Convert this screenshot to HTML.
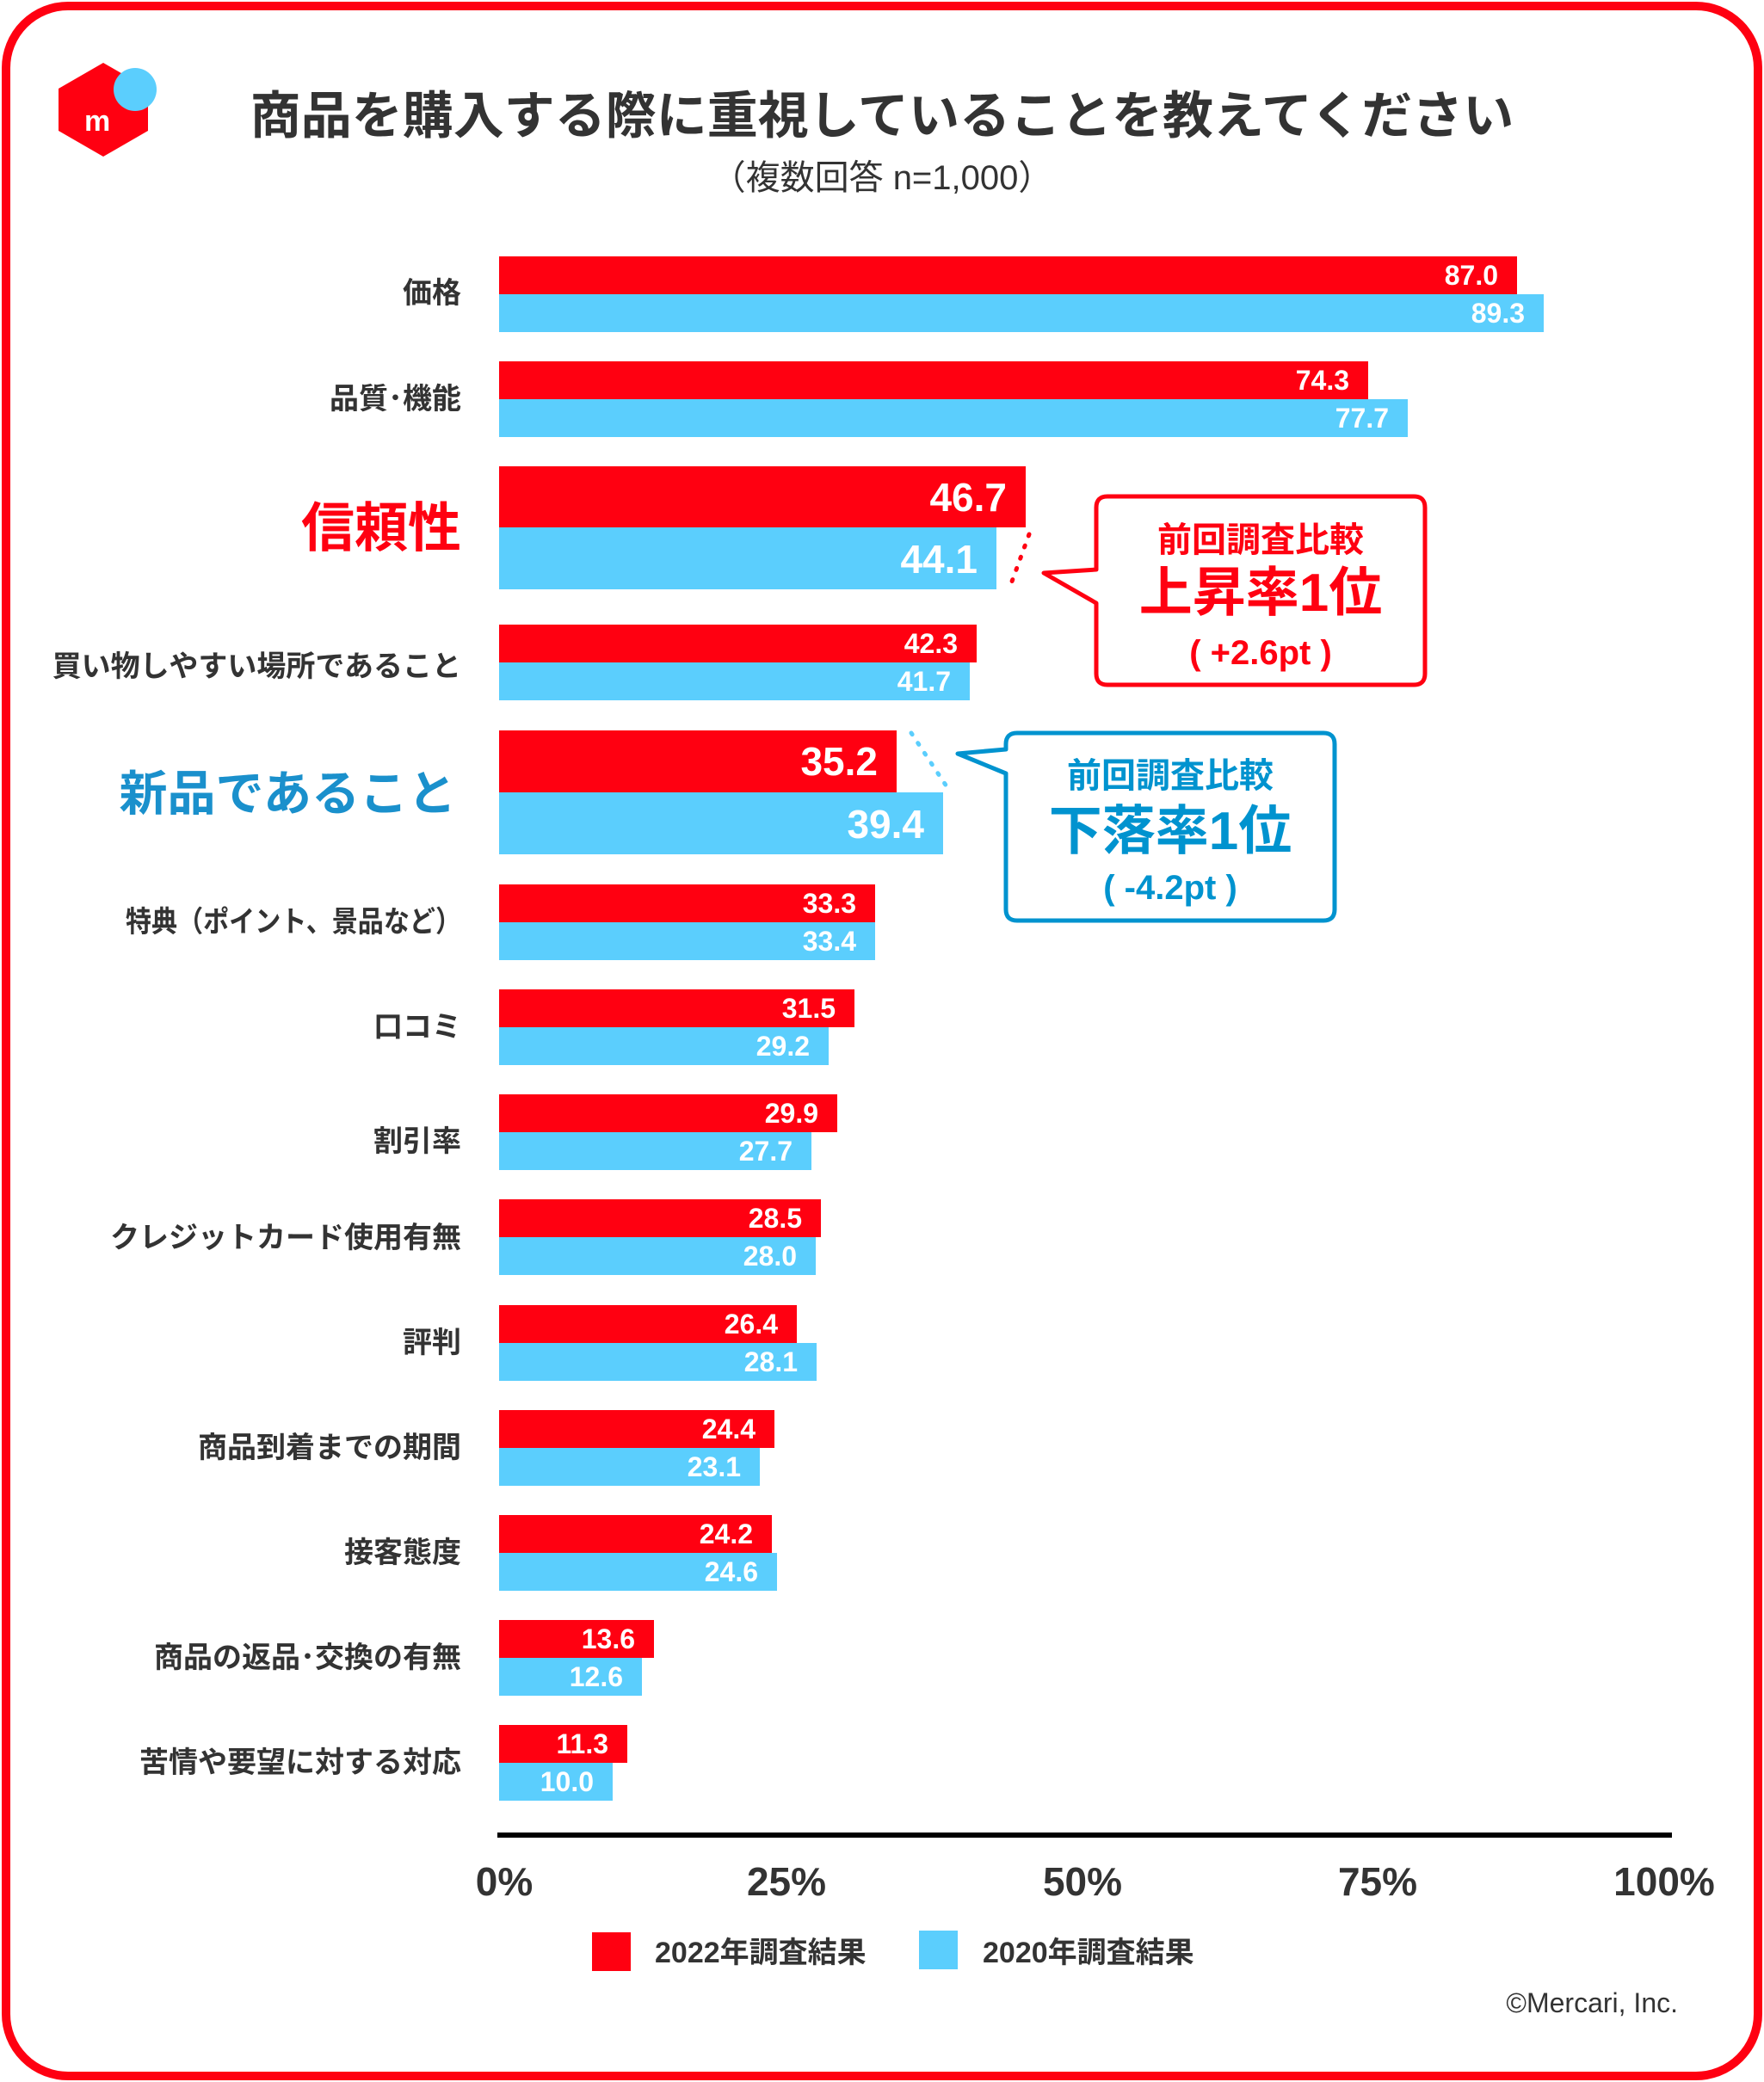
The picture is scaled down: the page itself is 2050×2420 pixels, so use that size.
<!DOCTYPE html>
<html><head><meta charset="utf-8"><style>
html,body{margin:0;padding:0;background:#fff}
svg{display:block}
text{font-family:"Liberation Sans","Noto Sans CJK JP",sans-serif;font-weight:bold}
</style></head><body>
<svg width="2050" height="2420" viewBox="0 0 2050 2420" xmlns="http://www.w3.org/2000/svg">
<rect x="7" y="7" width="2036" height="2406" rx="72" fill="#fff" stroke="#ff0011" stroke-width="10"/>
<polygon points="120,73 172,103 172,152 120,182 68,152 68,103" fill="#ff0011"/>
<circle cx="157" cy="104" r="25" fill="#5bcefd"/>
<text x="98" y="152" font-size="34" fill="#fff">m</text>
<text x="1025" y="155" font-size="59" fill="#333" text-anchor="middle">商品を購入する際に重視していることを教えてください</text>
<text x="1025" y="220" font-size="40" fill="#333" text-anchor="middle" style="font-weight:normal">（複数回答 n=1,000）</text>
<g fill="#ff0011">
<rect x="580" y="298" width="1183" height="44"/>
<rect x="580" y="420" width="1010" height="44"/>
<rect x="580" y="542" width="612" height="71"/>
<rect x="580" y="726" width="555" height="44"/>
<rect x="580" y="849" width="462" height="72"/>
<rect x="580" y="1028" width="437" height="44"/>
<rect x="580" y="1150" width="413" height="44"/>
<rect x="580" y="1272" width="393" height="44"/>
<rect x="580" y="1394" width="374" height="44"/>
<rect x="580" y="1517" width="346" height="44"/>
<rect x="580" y="1639" width="320" height="44"/>
<rect x="580" y="1761" width="317" height="44"/>
<rect x="580" y="1883" width="180" height="44"/>
<rect x="580" y="2005" width="149" height="44"/>
</g>
<g fill="#5bcefd">
<rect x="580" y="342" width="1214" height="44"/>
<rect x="580" y="464" width="1056" height="44"/>
<rect x="580" y="613" width="578" height="72"/>
<rect x="580" y="770" width="547" height="44"/>
<rect x="580" y="921" width="516" height="72"/>
<rect x="580" y="1072" width="437" height="44"/>
<rect x="580" y="1194" width="383" height="44"/>
<rect x="580" y="1316" width="363" height="44"/>
<rect x="580" y="1438" width="368" height="44"/>
<rect x="580" y="1561" width="369" height="44"/>
<rect x="580" y="1683" width="303" height="44"/>
<rect x="580" y="1805" width="323" height="44"/>
<rect x="580" y="1927" width="166" height="44"/>
<rect x="580" y="2049" width="132" height="44"/>
</g>
<g fill="#fff" font-size="32" text-anchor="end">
<text x="1741" y="331">87.0</text><text x="1772" y="375">89.3</text>
<text x="1568" y="453">74.3</text><text x="1614" y="497">77.7</text>
<text x="1170" y="594" font-size="46">46.7</text><text x="1136" y="666" font-size="46">44.1</text>
<text x="1113" y="759">42.3</text><text x="1105" y="803">41.7</text>
<text x="1020" y="901" font-size="46">35.2</text><text x="1074" y="974" font-size="46">39.4</text>
<text x="995" y="1061">33.3</text><text x="995" y="1105">33.4</text>
<text x="971" y="1183">31.5</text><text x="941" y="1227">29.2</text>
<text x="951" y="1305">29.9</text><text x="921" y="1349">27.7</text>
<text x="932" y="1427">28.5</text><text x="926" y="1471">28.0</text>
<text x="904" y="1550">26.4</text><text x="927" y="1594">28.1</text>
<text x="878" y="1672">24.4</text><text x="861" y="1716">23.1</text>
<text x="875" y="1794">24.2</text><text x="881" y="1838">24.6</text>
<text x="738" y="1916">13.6</text><text x="724" y="1960">12.6</text>
<text x="707" y="2038">11.3</text><text x="690" y="2082">10.0</text>
</g>
<g fill="#333" font-size="34" text-anchor="end">
<text x="536" y="352">価格</text>
<text x="536" y="475">品質･機能</text>
<text x="536" y="635" font-size="62" fill="#ff0011">信頼性</text>
<text x="536" y="786">買い物しやすい場所であること</text>
<text x="530" y="942" font-size="56" fill="#1a90cc">新品であること</text>
<text x="536" y="1083" textLength="390" lengthAdjust="spacingAndGlyphs">特典（ポイント、景品など）</text>
<text x="536" y="1205">口コミ</text>
<text x="536" y="1338">割引率</text>
<text x="536" y="1450">クレジットカード使用有無</text>
<text x="536" y="1572">評判</text>
<text x="536" y="1694">商品到着までの期間</text>
<text x="536" y="1816">接客態度</text>
<text x="536" y="1938">商品の返品･交換の有無</text>
<text x="536" y="2060">苦情や要望に対する対応</text>
</g>
<line x1="1196" y1="621" x2="1173" y2="684" stroke="#ff0011" stroke-width="5" stroke-dasharray="2 12" stroke-linecap="round"/>
<path d="M1274,662 L1274,590 Q1274,577 1287,577 L1643,577 Q1656,577 1656,590 L1656,783 Q1656,796 1643,796 L1287,796 Q1274,796 1274,783 L1274,701 L1213,666 Z" fill="#fff" stroke="#ff0011" stroke-width="5" stroke-linejoin="round"/>
<g fill="#ff0011" text-anchor="middle">
<text x="1465" y="641" font-size="40">前回調査比較</text>
<text x="1465" y="710" font-size="62">上昇率1位</text>
<text x="1465" y="772" font-size="40">( +2.6pt )</text>
</g>
<line x1="1059" y1="852" x2="1102" y2="917" stroke="#5bcefd" stroke-width="5" stroke-dasharray="2 12" stroke-linecap="round"/>
<path d="M1169,871 L1169,865 Q1169,852 1182,852 L1538,852 Q1551,852 1551,865 L1551,1057 Q1551,1070 1538,1070 L1182,1070 Q1169,1070 1169,1057 L1169,899 L1113,876 Z" fill="#fff" stroke="#0093cf" stroke-width="5" stroke-linejoin="round"/>
<g fill="#0093cf" text-anchor="middle">
<text x="1360" y="915" font-size="40">前回調査比較</text>
<text x="1360" y="987" font-size="62">下落率1位</text>
<text x="1360" y="1045" font-size="40">( -4.2pt )</text>
</g>
<rect x="578" y="2130" width="1365" height="6" fill="#000"/>
<g fill="#333" font-size="46" text-anchor="middle">
<text x="586" y="2203">0%</text>
<text x="914" y="2203">25%</text>
<text x="1258" y="2203">50%</text>
<text x="1601" y="2203">75%</text>
<text x="1934" y="2203">100%</text>
</g>
<rect x="688" y="2246" width="45" height="45" fill="#ff0011"/>
<rect x="1068" y="2244" width="45" height="45" fill="#5bcefd"/>
<g fill="#333" font-size="34">
<text x="761" y="2281">2022年調査結果</text>
<text x="1142" y="2281">2020年調査結果</text>
</g>
<text x="1950" y="2339" font-size="32" fill="#333" text-anchor="end" style="font-weight:normal">©Mercari, Inc.</text>
</svg>
</body></html>
